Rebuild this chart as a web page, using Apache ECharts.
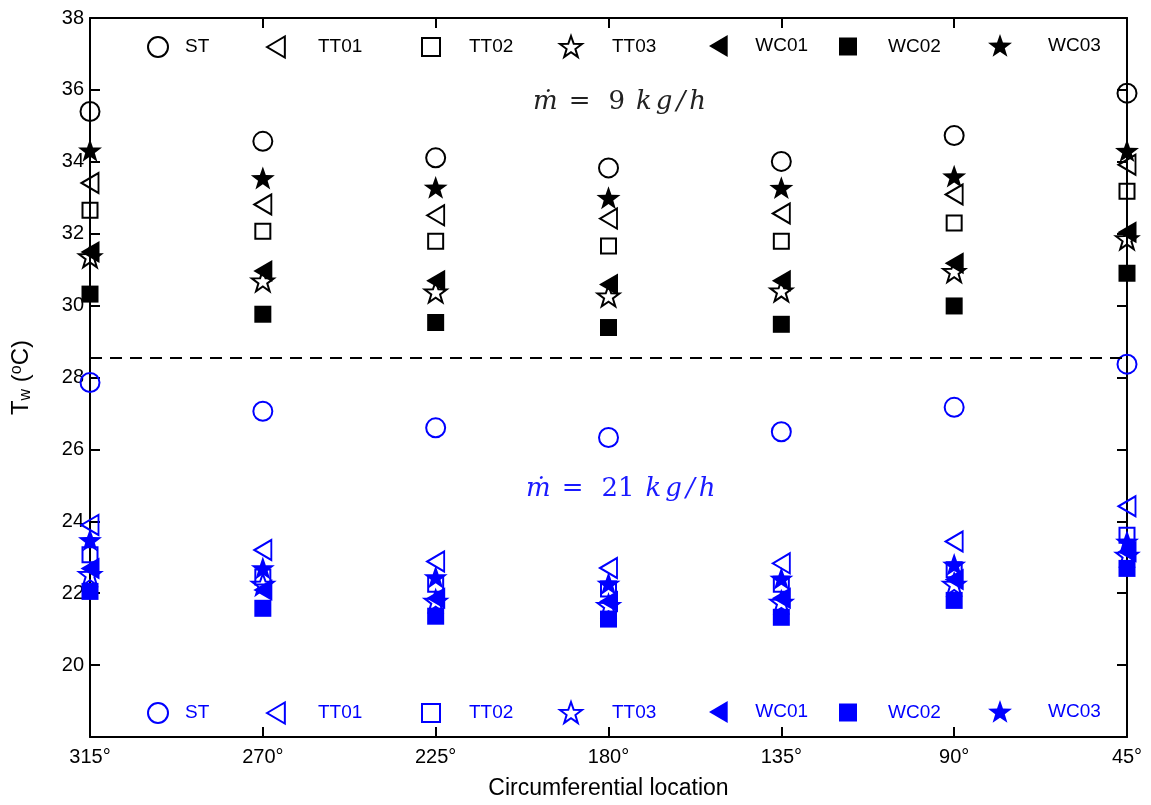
<!DOCTYPE html>
<html>
<head>
<meta charset="utf-8">
<script src="https://cdn.jsdelivr.net/npm/echarts@6/dist/echarts.min.js"></script>
<style>html,body{margin:0;padding:0;background:#fff}#c{width:1151px;height:805px}</style>
</head>
<body>
<div id="c"></div>
<script>
// ---- data ----
const categories = ['315°','270°','225°','180°','135°','90°','45°'];
const yTicks = [18, 38, 2];
const seriesNames = ['ST','TT01','TT02','TT03','WC01','WC02','WC03'];
// m = 9 kg/h (black)
const ST_9   = [35.40, 34.57, 34.11, 33.83, 34.01, 34.73, 35.91];
const TT01_9 = [33.41, 32.81, 32.51, 32.42, 32.56, 33.09, 33.92];
const TT02_9 = [32.65, 32.07, 31.79, 31.66, 31.79, 32.30, 33.18];
const TT03_9 = [31.36, 30.69, 30.38, 30.27, 30.41, 30.95, 31.86];
const WC01_9 = [31.49, 30.96, 30.69, 30.59, 30.69, 31.18, 32.04];
const WC02_9 = [30.32, 29.76, 29.53, 29.39, 29.48, 29.99, 30.90];
const WC03_9 = [34.32, 33.55, 33.29, 33.00, 33.28, 33.60, 34.31];
// m = 21 kg/h (blue)
const ST_21   = [27.86, 27.06, 26.60, 26.33, 26.49, 27.17, 28.37];
const TT01_21 = [23.90, 23.20, 22.88, 22.70, 22.83, 23.44, 24.42];
const TT02_21 = [23.07, 22.45, 22.25, 22.12, 22.25, 22.65, 23.61];
const TT03_21 = [22.52, 22.25, 21.78, 21.66, 21.75, 22.25, 23.06];
const WC01_21 = [22.69, 22.09, 21.86, 21.77, 21.86, 22.38, 23.15];
const WC02_21 = [22.05, 21.58, 21.36, 21.28, 21.33, 21.80, 22.69];
const WC03_21 = [23.48, 22.70, 22.45, 22.27, 22.41, 22.80, 23.44];
const separator = 28.55;

// ---- styles ----
const STAR = 'path://M0,-10L2.35,-3.24L9.51,-3.09L3.80,1.24L5.88,8.09L0,4L-5.88,8.09L-3.80,1.24L-9.51,-3.09L-2.35,-3.24Z';
const TRI_LEFT = 'path://M0,10L17,0L17,20Z';
const markerDefs = [
  {symbol:'circle', size:19, filled:false, rot:0, icon:'circle'},
  {symbol:'triangle', size:[20,17], filled:false, rot:90, icon:TRI_LEFT},
  {symbol:'rect', size:15, filled:false, rot:0, icon:'rect'},
  {symbol:STAR, size:22, filled:false, rot:0, icon:STAR},
  {symbol:'triangle', size:[22,19], filled:true, rot:90, icon:TRI_LEFT},
  {symbol:'rect', size:17, filled:true, rot:0, icon:'rect'},
  {symbol:STAR, size:24, filled:true, rot:0, icon:STAR}
];
// legend layout (pixels): marker left edge, gap before text, icon size
const legendX = [147, 266, 421, 559, 709, 839, 988];
const legendPad = [12, 28, 24, 25, 22, 26, 31];
const legendIcon = [[20,20],[18,21],[18,18],[22,22],[20,22],[18,18],[24,24]];
const data9 = [ST_9, TT01_9, TT02_9, TT03_9, WC01_9, WC02_9, WC03_9];
const data21 = [ST_21, TT01_21, TT02_21, TT03_21, WC01_21, WC02_21, WC03_21];

function mk(name, values, color, i){
  const m = markerDefs[i];
  return {
    name: name, type:'scatter', xAxisIndex:0, yAxisIndex:0,
    data: values, symbol: m.symbol, symbolSize: m.size, symbolRotate: m.rot,
    symbolKeepAspect: true,
    itemStyle: m.filled ? {color: color, borderWidth:0, opacity:1} : {color:'transparent', borderColor: color, borderWidth: 2, opacity:1},
    emphasis:{disabled:true}, z: 3 + i
  };
}
const series = [];
seriesNames.forEach((n,i)=>series.push(mk(n, data9[i], '#000', i)));
seriesNames.forEach((n,i)=>series.push(mk(n+' ', data21[i], '#0000ff', i)));
series[0].markLine = {
  silent:true, symbol:'none', label:{show:false},
  lineStyle:{color:'#000', type:[12,8], width:2, opacity:1},
  data:[{yAxis: separator}]
};

const FF = 'Liberation Sans, Arial, sans-serif';
const axisFont = {fontFamily:FF, fontSize:20, color:'#000'};
const legends = [];
[[seriesNames, 36, '#000'], [seriesNames.map(n=>n+' '), 702, '#0000ff']].forEach(([names, top, color])=>{
  names.forEach((n,i)=>{
    legends.push({
      left: legendX[i], top: top + (20 - legendIcon[i][1]) / 2, itemWidth: legendIcon[i][0], itemHeight: legendIcon[i][1],
      padding: 0, selectedMode:false,
      data:[{name:n, icon: markerDefs[i].icon}],
      formatter: s => '{t|' + s.trim() + '}',
      textStyle:{fontFamily:FF, fontSize:19, color:color, rich:{t:{fontFamily:FF, fontSize:19, color:color, padding:[0,0,0,legendPad[i]]}}}
    });
  });
});

function mathText(parts, color){
  return {
    text: parts,
    rich:{
      i:{fontFamily:'DejaVu Serif, serif', fontStyle:'italic', fontSize:26, fill:color, padding:[0,2,0,2]},
      r:{fontFamily:'DejaVu Serif, serif', fontSize:26, fill:color, padding:[0,9,0,9]}
    }
  };
}

const option = {
  animation:false,
  backgroundColor:'#fff',
  grid:{left:90, right:24, top:18, bottom:65, containLabel:false},
  xAxis:[{
    type:'category', data:categories, boundaryGap:false, position:'bottom',
    axisLine:{lineStyle:{color:'#000', width:2}},
    axisTick:{inside:true, length:10, lineStyle:{color:'#000', width:2}},
    axisLabel:Object.assign({margin:10}, axisFont),
    splitLine:{show:false},
    name:'Circumferential location', nameLocation:'middle', nameGap:40,
    nameTextStyle:{fontFamily:FF, fontSize:23, color:'#000'}
  },{
    type:'category', data:categories, boundaryGap:false, position:'top',
    axisLine:{lineStyle:{color:'#000', width:2}},
    axisTick:{inside:true, length:10, lineStyle:{color:'#000', width:2}},
    axisLabel:{show:false}, splitLine:{show:false}
  }],
  yAxis:[{
    type:'value', min:yTicks[0], max:yTicks[1], interval:yTicks[2], position:'left',
    axisLine:{show:true, lineStyle:{color:'#000', width:2}},
    axisTick:{show:true, inside:true, length:10, lineStyle:{color:'#000', width:2}},
    axisLabel:Object.assign({margin:6, formatter: v => (v===18 ? '' : String(v))}, axisFont),
    splitLine:{show:false},
    name:'{t|T}{s|w}{t| (}{p|o}{t|C)}', nameLocation:'middle', nameGap:56, nameRotate:90,
    nameTextStyle:{
      rich:{
        t:{fontFamily:FF, fontSize:24, color:'#000'},
        s:{fontFamily:FF, fontSize:16, color:'#000', verticalAlign:'bottom', padding:[9,0,0,0]},
        p:{fontFamily:FF, fontSize:16, color:'#000', verticalAlign:'top', padding:[0,0,9,0]}
      }
    }
  },{
    type:'value', min:yTicks[0], max:yTicks[1], interval:yTicks[2], position:'right',
    axisLine:{show:true, lineStyle:{color:'#000', width:2}},
    axisTick:{show:true, inside:true, length:10, lineStyle:{color:'#000', width:2}},
    axisLabel:{show:false}, splitLine:{show:false}
  }],
  legend: legends,
  graphic:[
    {type:'text', left:533, top:89, z:10, style: mathText('{i|ṁ}{r|=}{r|9}{i|k}{i|g}{i|/}{i|h}', '#222')},
    {type:'text', left:526, top:476, z:10, style: mathText('{i|ṁ}{r|=}{r|21}{i|k}{i|g}{i|/}{i|h}', '#1a1aff')}
  ],
  series: series
};
const chart = echarts.init(document.getElementById('c'), null, {renderer:'canvas'});
chart.setOption(option);
</script>
</body>
</html>
